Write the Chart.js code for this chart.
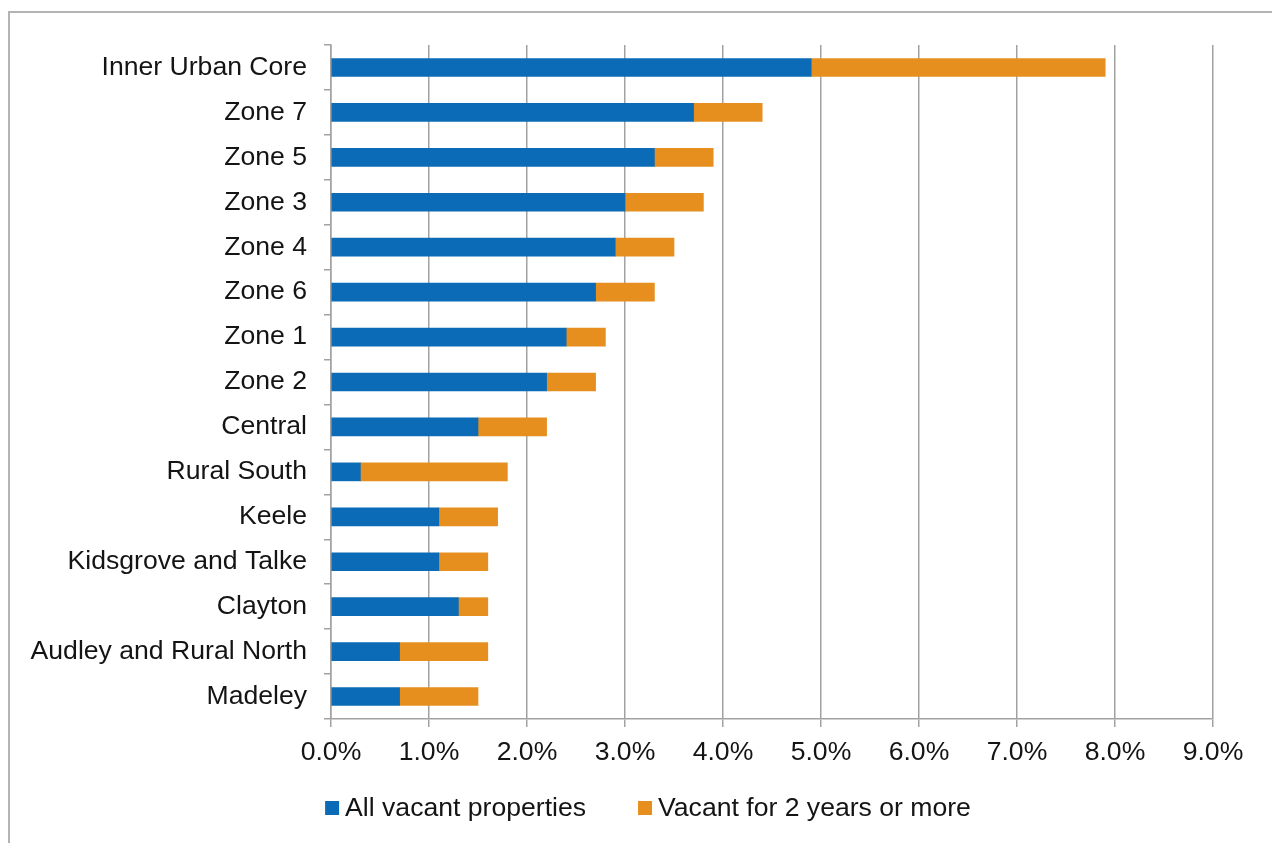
<!DOCTYPE html>
<html>
<head>
<meta charset="utf-8">
<title>Vacant properties by area</title>
<script src="https://cdn.jsdelivr.net/npm/chart.js@4.4.1/dist/chart.umd.min.js"></script>
<style>
  html, body { margin: 0; padding: 0; background: #fff; }
  .wrap { position: relative; width: 1272px; height: 843px; overflow: hidden; }
  .frame {
    position: absolute; left: 8px; top: 11px; width: 1400px; height: 1000px;
    border-left: 2px solid #b4b4b4; border-top: 2px solid #b4b4b4;
  }
  canvas { position: absolute; left: 0; top: 0; }
</style>
</head>
<body>
<div class="wrap">
  <div class="frame"></div>
  <canvas id="vacancyChart" width="1272" height="843"></canvas>
</div>
<script>
// areas, top to bottom
const areas = [
  "Inner Urban Core", "Zone 7", "Zone 5", "Zone 3", "Zone 4", "Zone 6",
  "Zone 1", "Zone 2", "Central", "Rural South", "Keele",
  "Kidsgrove and Talke", "Clayton", "Audley and Rural North", "Madeley"
];

// % of stock
const allVacant = [4.9, 3.7, 3.3, 3.0, 2.9, 2.7, 2.4, 2.2, 1.5, 0.3, 1.1, 1.1, 1.3, 0.7, 0.7];
const vacantTwoYears = [3.0, 0.7, 0.6, 0.8, 0.6, 0.6, 0.4, 0.5, 0.7, 1.5, 0.6, 0.5, 0.3, 0.9, 0.8];

const xTicks = [0, 1, 2, 3, 4, 5, 6, 7, 8, 9];

const BLUE = "#0b6bb6";
const ORANGE = "#e68f1e";
const GRID = "#a2a2a2";
const TEXT = "#141414";
const FONT = "'Liberation Sans', Arial, sans-serif";
const FONT_SIZE = 26.6;

// legend under the axis: small square, then the series name
const bottomLegend = {
  id: "bottomLegend",
  afterDraw(chart) {
    const { ctx } = chart;
    const sets = chart.data.datasets;
    const box = 14, gap = 6, spacing = 52, cy = 808, centerX = 648;
    ctx.save();
    ctx.font = FONT_SIZE + "px " + FONT;
    ctx.textBaseline = "middle";
    ctx.textAlign = "left";
    const widths = sets.map((d) => box + gap + ctx.measureText(d.label).width);
    const total = widths.reduce((a, b) => a + b, 0) + spacing * (sets.length - 1);
    let x = centerX - total / 2;
    sets.forEach((d, i) => {
      ctx.fillStyle = d.backgroundColor;
      ctx.fillRect(x, cy - box / 2, box, box);
      ctx.fillStyle = TEXT;
      ctx.fillText(d.label, x + box + gap, cy + 1);
      x += widths[i] + spacing;
    });
    ctx.restore();
  }
};

new Chart(document.getElementById("vacancyChart"), {
  type: "bar",
  data: {
    labels: areas,
    datasets: [
      {
        label: "All vacant properties",
        data: allVacant,
        backgroundColor: BLUE,
        barThickness: 18,
        stack: "s"
      },
      {
        label: "Vacant for 2 years or more",
        data: vacantTwoYears,
        backgroundColor: ORANGE,
        barThickness: 18,
        stack: "s"
      }
    ]
  },
  options: {
    indexAxis: "y",
    responsive: false,
    animation: false,
    layout: { padding: { top: 45, right: 59, left: 0, bottom: 0 } },
    scales: {
      x: {
        stacked: true,
        min: xTicks[0],
        max: xTicks[xTicks.length - 1],
        afterBuildTicks: (scale) => { scale.ticks = xTicks.map((v) => ({ value: v })); },
        grid: { color: GRID, lineWidth: 1.5, tickLength: 8, drawOnChartArea: true },
        border: { color: GRID, width: 1.5 },
        ticks: {
          color: TEXT,
          font: { family: FONT, size: FONT_SIZE },
          padding: 10,
          maxRotation: 0,
          callback: (v) => v.toFixed(1) + "%"
        },
        afterFit: (scale) => { scale.height = 124; }
      },
      y: {
        stacked: true,
        grid: { color: GRID, lineWidth: 1.5, tickLength: 7, drawOnChartArea: false, offset: true },
        border: { color: GRID, width: 1.5 },
        ticks: {
          color: TEXT,
          font: { family: FONT, size: FONT_SIZE },
          padding: 17
        },
        afterFit: (scale) => { scale.width = 331; }
      }
    },
    plugins: {
      legend: { display: false },
      tooltip: { enabled: false }
    }
  },
  plugins: [bottomLegend]
});
</script>
</body>
</html>
